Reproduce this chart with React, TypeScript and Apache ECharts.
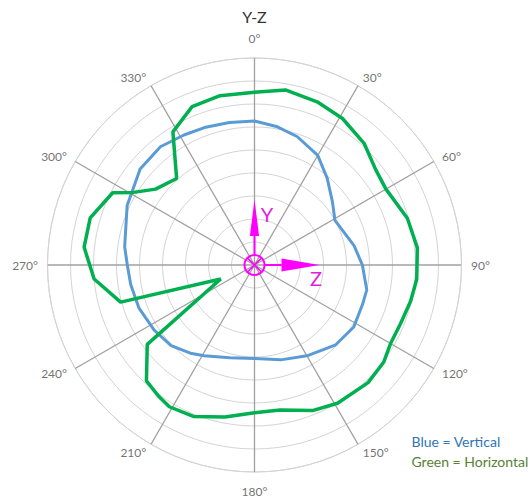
import { useEffect, useRef } from "react";
import * as echarts from "echarts";

const TITLE = "Y-Z";
const ANGLE_TICKS = [0, 30, 60, 90, 120, 150, 180, 210, 240, 270, 300, 330];
const TICK_LABELS = ["0°", "30°", "60°", "90°", "120°", "150°", "180°", "210°", "240°", "270°", "300°", "330°"];
const RING_COUNT = 9;

const VERTICAL_ANGLES = [0, 9, 18.5, 30, 40, 51, 61, 79, 90, 102.5, 110, 122, 134.5, 150, 164.5, 180, 195, 209, 216, 226, 237, 249.5, 261, 270, 278, 295, 310, 321.5, 331.5, 340, 350, 360];
const VERTICAL_VALUES = [6.26, 6.1, 5.88, 5.5, 4.92, 4.36, 4.0, 4.41, 4.69, 5.0, 5.0, 5.09, 4.95, 4.56, 4.28, 4.06, 4.18, 4.51, 4.74, 5.04, 5.2, 5.36, 5.45, 5.53, 5.7, 6.11, 6.49, 6.57, 6.43, 6.36, 6.29, 6.26];

const HORIZONTAL_ANGLES = [0, 10, 21, 31, 42, 52, 60, 73, 84, 95, 103, 112, 120, 127, 136, 149, 158, 170, 180, 191, 202, 211, 216, 223, 233.5, 247.5, 254.5, 265, 276, 286, 297, 301, 307.5, 318, 328.5, 338.5, 348.5, 360];
const HORIZONTAL_VALUES = [7.51, 7.73, 7.6, 7.43, 7.12, 6.7, 6.6, 6.95, 7.12, 7.08, 6.97, 6.84, 6.83, 7.03, 7.11, 7.01, 6.82, 6.4, 6.42, 6.73, 7.1, 7.19, 7.07, 6.89, 5.8, 1.59, 6.04, 7.0, 7.45, 7.43, 6.92, 6.13, 5.42, 5.06, 6.79, 7.4, 7.51, 7.51];

const LEGEND_LINES = ["Blue = Vertical", "Green = Horizontal"];

// layout
const CX = 254.5;
const CY = 265;
const R = 207;
const FONT = "Lato, 'Open Sans', sans-serif";
const MAGENTA = "#ff00ff";

export default function App() {
  const ref = useRef<HTMLDivElement>(null);

  useEffect(() => {
    if (!ref.current) return;
    const chart = echarts.init(ref.current, null, { renderer: "svg" });
    const unit = R / RING_COUNT;

    const spokeSeries = ANGLE_TICKS.map((a) => {
      const rad = (a * Math.PI) / 180;
      const ext = RING_COUNT / Math.max(Math.abs(Math.sin(rad)), Math.abs(Math.cos(rad)));
      return {
        type: "line",
        coordinateSystem: "polar",
        clip: false,
        silent: true,
        symbol: "none",
        z: 1,
        lineStyle: { color: "#a0a0a0", width: 1.3 },
        data: [
          [0, a],
          [ext, a],
        ],
      };
    });

    const labelData = ANGLE_TICKS.map((a, i) => {
      const s = Math.sin((a * Math.PI) / 180);
      const vertical = Math.abs(s) < 0.3;
      return {
        name: TICK_LABELS[i],
        value: [vertical ? 226.5 / unit : 216.5 / unit, a],
        label: {
          align: vertical ? "center" : s > 0 ? "left" : "right",
          verticalAlign: "middle",
        },
      };
    });

    const option: any = {
      animation: false,
      backgroundColor: "#ffffff",
      title: {
        text: TITLE,
        left: CX,
        top: 8,
        padding: 0,
        textAlign: "center",
        textStyle: { fontFamily: FONT, fontSize: 16, fontWeight: "normal", color: "#333333" },
      },
      polar: { center: [CX, CY], radius: R },
      angleAxis: {
        type: "value",
        min: 0,
        max: 360,
        interval: 30,
        startAngle: 90,
        clockwise: true,
        axisLine: { show: true, lineStyle: { color: "#d4d4d4", width: 1 } },
        axisTick: { show: false },
        axisLabel: { show: false },
        splitLine: { show: false },
      },
      radiusAxis: {
        type: "value",
        min: 0,
        max: RING_COUNT,
        interval: 1,
        axisLine: { show: false },
        axisTick: { show: false },
        axisLabel: { show: false },
        splitLine: { show: true, lineStyle: { color: "#d4d4d4", width: 1 } },
      },
      series: [
        ...spokeSeries,
        {
          name: "Angle labels",
          type: "scatter",
          coordinateSystem: "polar",
          clip: false,
          silent: true,
          symbolSize: 0,
          data: labelData,
          label: {
            show: true,
            position: "inside",
            formatter: "{b}",
            color: "#4d4d4d",
            fontSize: 12,
            fontFamily: FONT,
          },
        },
        {
          name: "Vertical",
          type: "line",
          coordinateSystem: "polar",
          symbol: "none",
          z: 3,
          lineStyle: { color: "#5b9bd5", width: 3 },
          data: VERTICAL_ANGLES.map((a, i) => [VERTICAL_VALUES[i], a]),
        },
        {
          name: "Horizontal",
          type: "line",
          coordinateSystem: "polar",
          symbol: "none",
          z: 4,
          lineStyle: { color: "#00b050", width: 3.5 },
          data: HORIZONTAL_ANGLES.map((a, i) => [HORIZONTAL_VALUES[i], a]),
        },
      ],
      graphic: [
        { type: "line", z: 100, shape: { x1: CX, y1: CY - 10, x2: CX, y2: CY - 29 }, style: { stroke: MAGENTA, lineWidth: 2 } },
        { type: "polygon", z: 100, shape: { points: [[CX, CY - 65.5], [CX - 4.6, CY - 29], [CX + 4.6, CY - 29]] }, style: { fill: MAGENTA } },
        { type: "line", z: 100, shape: { x1: CX + 10, y1: CY, x2: CX + 27, y2: CY }, style: { stroke: MAGENTA, lineWidth: 2 } },
        { type: "polygon", z: 100, shape: { points: [[CX + 65, CY], [CX + 27, CY - 6.5], [CX + 27, CY + 6.5]] }, style: { fill: MAGENTA } },
        { type: "circle", z: 100, shape: { cx: CX, cy: CY, r: 10 }, style: { fill: "none", stroke: MAGENTA, lineWidth: 2 } },
        { type: "line", z: 100, shape: { x1: CX - 6.8, y1: CY - 6.8, x2: CX + 6.8, y2: CY + 6.8 }, style: { stroke: MAGENTA, lineWidth: 1.6 } },
        { type: "line", z: 100, shape: { x1: CX - 6.8, y1: CY + 6.8, x2: CX + 6.8, y2: CY - 6.8 }, style: { stroke: MAGENTA, lineWidth: 1.6 } },
        { type: "text", z: 100, x: 267, y: 214, style: { text: "Y", fill: "#e020e0", fontSize: 20, fontFamily: FONT, align: "center", verticalAlign: "middle" } },
        { type: "text", z: 100, x: 316, y: 278, style: { text: "Z", fill: "#e020e0", fontSize: 20, fontFamily: FONT, align: "center", verticalAlign: "middle" } },
        { type: "text", z: 100, x: 411.5, y: 441, style: { text: LEGEND_LINES[0], fill: "#2e75b6", fontSize: 14, fontFamily: FONT, align: "left", verticalAlign: "middle" } },
        { type: "text", z: 100, x: 411.5, y: 461, style: { text: LEGEND_LINES[1], fill: "#548235", fontSize: 14, fontFamily: FONT, align: "left", verticalAlign: "middle" } },
      ],
    };

    chart.setOption(option);
    return () => chart.dispose();
  }, []);

  return (
    <div
      ref={ref}
      style={{ position: "fixed", left: 0, top: 0, width: 532, height: 502, background: "#fff" }}
    />
  );
}
